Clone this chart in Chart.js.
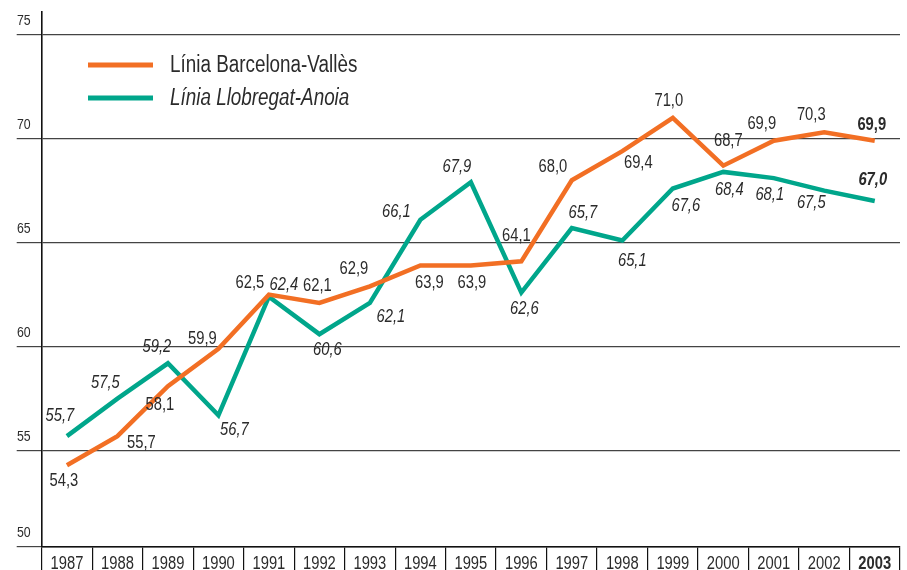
<!DOCTYPE html>
<html>
<head>
<meta charset="utf-8">
<script src="https://cdn.jsdelivr.net/npm/chart.js@4"></script>
<style>
html,body{margin:0;padding:0;background:#fff;}
canvas{display:block;}
</style>
</head>
<body>
<canvas id="c" width="907" height="570"></canvas>
<script>
// ---- data ----
const years = ['1987','1988','1989','1990','1991','1992','1993','1994','1995','1996','1997','1998','1999','2000','2001','2002','2003'];
const barcelonaValles = [54.3,55.7,58.1,59.9,62.5,62.1,62.9,63.9,63.9,64.1,68.0,69.4,71.0,68.7,69.9,70.3,69.9];
const llobregatAnoia = [55.7,57.5,59.2,56.7,62.4,60.6,62.1,66.1,67.9,62.6,65.7,65.1,67.6,68.4,68.1,67.5,67.0];
const yTickValues = [50,55,60,65,70,75];
const seriesNames = ['Línia Barcelona-Vallès','Línia Llobregat-Anoia'];

// ---- label placement (pixel offsets of value labels from their points) ----
const offsBV = [[-3,16],[24,7],[-8,19],[-16,-10],[-19,-12],[-2,-17],[-16,-17],[9,18],[1,18],[-5,-25],[-19,-13],[16,12],[-4,-17],[5,-25],[-12,-17],[-13,-17],[-3,-16]];
const offsLA = [[-7,-20],[-12,-16],[-11,-16],[16,15],[15,-12],[8,16],[21,14],[-24,-8],[-14,-15],[3,16],[11,-15],[10,20],[13,17],[6,18],[-4,17],[-13,12],[-2,-21]];

const ORANGE = '#F26F24';
const TEAL = '#00A68B';
const TXT = '#2b2b2b';
const FONT = '"Liberation Sans", Arial, sans-serif';
const SX = 0.82; // horizontal condensing of text

const fmt = v => v.toFixed(1).replace('.', ',');

function cText(ctx, text, x, y, font, align) {
  ctx.save();
  ctx.font = font;
  ctx.textAlign = align || 'center';
  ctx.textBaseline = 'middle';
  ctx.fillStyle = TXT;
  ctx.translate(x, y);
  ctx.scale(SX, 1);
  ctx.fillText(text, 0, 0);
  ctx.restore();
}

const valueLabels = {
  id: 'valueLabels',
  afterDatasetsDraw(chart) {
    const ctx = chart.ctx;
    chart.data.datasets.forEach((ds, di) => {
      const meta = chart.getDatasetMeta(di);
      const offs = di === 0 ? offsBV : offsLA;
      meta.data.forEach((pt, i) => {
        const last = i === ds.data.length - 1;
        const font = (di === 1 ? 'italic ' : '') + (last ? 'bold ' : '') + '18px ' + FONT;
        cText(ctx, fmt(ds.data[i]), pt.x + offs[i][0], pt.y + offs[i][1], font, 'center');
      });
    });
  }
};

const axisLabels = {
  id: 'axisLabels',
  afterDraw(chart) {
    const ctx = chart.ctx;
    const xs = chart.scales.x, ys = chart.scales.y;
    xs.ticks.forEach((t, i) => {
      const last = i === xs.ticks.length - 1;
      cText(ctx, xs.getLabelForValue(t.value), xs.getPixelForTick(i), xs.top + 17,
        (last ? 'bold ' : '') + '18px ' + FONT, 'center');
    });
    ys.ticks.forEach((t, i) => {
      cText(ctx, String(yTickValues[i]), 30.7, ys.getPixelForValue(t.value) - 14, '15px ' + FONT, 'right');
    });
  }
};

const customLegend = {
  id: 'customLegend',
  afterDraw(chart) {
    const ctx = chart.ctx;
    const rows = [65, 98];
    chart.data.datasets.forEach((ds, di) => {
      const y = rows[di];
      ctx.save();
      ctx.strokeStyle = ds.borderColor;
      ctx.lineWidth = 5;
      ctx.beginPath();
      ctx.moveTo(88, y);
      ctx.lineTo(153, y);
      ctx.stroke();
      ctx.restore();
      cText(ctx, ds.label, 170, y + 1, (di === 1 ? 'italic ' : '') + '23px ' + FONT, 'left');
    });
  }
};

new Chart(document.getElementById('c'), {
  type: 'line',
  data: {
    labels: years,
    datasets: [
      { label: seriesNames[0], data: barcelonaValles, borderColor: ORANGE, backgroundColor: ORANGE, borderWidth: 4.5, pointRadius: 0, tension: 0, borderJoinStyle: 'miter', clip: false },
      { label: seriesNames[1], data: llobregatAnoia, borderColor: TEAL, backgroundColor: TEAL, borderWidth: 4.5, pointRadius: 0, tension: 0, borderJoinStyle: 'miter', clip: false }
    ]
  },
  options: {
    responsive: false,
    animation: false,
    layout: { padding: { top: 11.7, right: 7, left: 0, bottom: 0 } },
    plugins: { legend: { display: false }, tooltip: { enabled: false } },
    scales: {
      x: {
        type: 'category',
        offset: true,
        grid: { offset: true, drawOnChartArea: false, drawTicks: true, tickLength: 24, color: '#111', lineWidth: 1.2 },
        border: { display: true, color: '#111', width: 1.6 },
        ticks: { display: false, autoSkip: false },
        afterFit: s => { s.height = 23.3; }
      },
      y: {
        min: 50.385,
        max: 76.1,
        afterBuildTicks: s => { s.ticks = yTickValues.map(v => ({ value: Math.max(v, s.min) })); },
        grid: { drawTicks: true, tickLength: 25, color: '#444', lineWidth: 1.2 },
        border: { display: true, color: '#111', width: 1.6 },
        ticks: { display: false },
        afterFit: s => { s.width = 41.7; }
      }
    }
  },
  plugins: [valueLabels, axisLabels, customLegend]
});
</script>
</body>
</html>
